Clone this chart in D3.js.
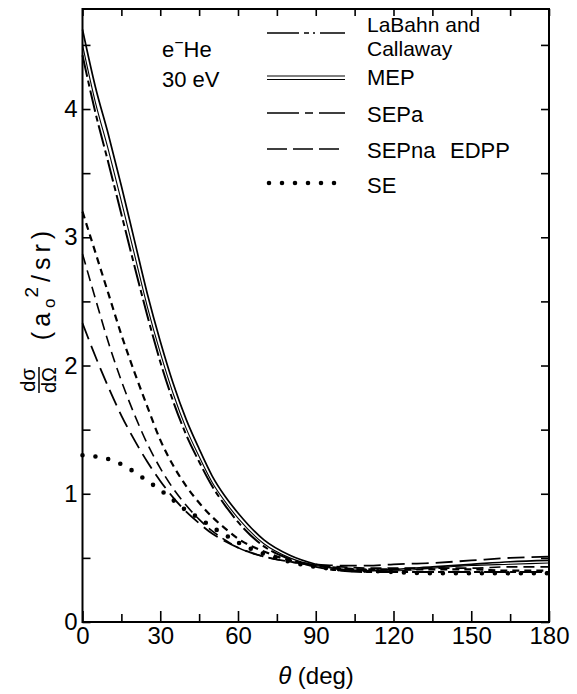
<!DOCTYPE html>
<html>
<head>
<meta charset="utf-8">
<style>
html, body {
  margin: 0px;
  padding: 0px;
  border: 0px;
  background: #fff;
}
svg text {
  font-family: "Liberation Sans", Arial, sans-serif;
  fill: #000;
}
.axis path {
  display: none;
}
.axis line {
  stroke: #000;
  stroke-width: 1.6px;
}
.axis text {
  font-size: 24px;
}
</style>
</head>
<body>
<div id="chart"></div>
<script src="https://cdn.jsdelivr.net/npm/d3@7/dist/d3.min.js"></script>
<script>
  var angles = [0, 5, 10, 15, 20, 25, 30, 35, 40, 45, 50, 55, 60, 70, 80, 90, 100, 110, 120, 135, 150, 165, 180];

  // dsigma/dOmega in a0^2/sr
  var mepOuter = [4.62, 4.17, 3.80, 3.40, 2.98, 2.56, 2.19, 1.86, 1.58, 1.35, 1.14, 0.98, 0.85, 0.64, 0.52, 0.45, 0.41, 0.40, 0.41, 0.43, 0.45, 0.47, 0.48];
  var mepInner = [4.50, 4.05, 3.68, 3.28, 2.87, 2.46, 2.10, 1.78, 1.51, 1.29, 1.09, 0.94, 0.81, 0.61, 0.50, 0.44, 0.41, 0.40, 0.40, 0.42, 0.44, 0.45, 0.46];
  var labahn = [4.42, 3.97, 3.58, 3.18, 2.78, 2.39, 2.03, 1.72, 1.46, 1.25, 1.06, 0.91, 0.78, 0.59, 0.49, 0.43, 0.40, 0.39, 0.39, 0.39, 0.39, 0.39, 0.39];
  var sepa = [3.20, 2.88, 2.56, 2.24, 1.95, 1.68, 1.42, 1.22, 1.06, 0.93, 0.82, 0.73, 0.65, 0.55, 0.48, 0.44, 0.42, 0.41, 0.41, 0.41, 0.41, 0.40, 0.40];
  var sepna = [2.87, 2.52, 2.18, 1.88, 1.62, 1.39, 1.20, 1.04, 0.91, 0.80, 0.71, 0.64, 0.58, 0.51, 0.47, 0.44, 0.43, 0.42, 0.42, 0.42, 0.42, 0.43, 0.43];
  var edpp = [2.33, 2.07, 1.83, 1.61, 1.42, 1.25, 1.10, 0.97, 0.86, 0.77, 0.69, 0.63, 0.58, 0.51, 0.47, 0.45, 0.44, 0.44, 0.45, 0.46, 0.48, 0.50, 0.51];
  var se = [1.30, 1.29, 1.27, 1.23, 1.17, 1.10, 1.03, 0.95, 0.87, 0.81, 0.74, 0.68, 0.62, 0.53, 0.47, 0.43, 0.41, 0.40, 0.39, 0.38, 0.38, 0.38, 0.38];

  var xTicks = [0, 30, 60, 90, 120, 150, 180];
  var xMinor = [15, 45, 75, 105, 135, 165];
  var yTicks = [0, 1, 2, 3, 4];
  var yMinor = [0.5, 1.5, 2.5, 3.5, 4.5];

  var legendLabels = ["LaBahn and", "MEP", "SEPa", "SEPna", "SE"];

  var W = 577, H = 694;
  var mLeft = 82.5, mRight = 549, mTop = 9, mBottom = 622;

  var x = d3.scaleLinear().domain([0, 180]).range([mLeft, mRight]);
  var y = d3.scaleLinear().domain([0, 4.78]).range([mBottom, mTop]);

  var svg = d3.select("#chart").append("svg")
    .attr("width", W)
    .attr("height", H);

  // curves
  var series = [
    { values: edpp, width: 1.8, dash: "17,7", cap: "butt" },
    { values: sepna, width: 1.6, dash: "11,6", cap: "butt" },
    { values: sepa, width: 2.2, dash: "7,5", cap: "butt" },
    { values: labahn, width: 2.0, dash: "22,4,6,4", cap: "butt" },
    { values: mepInner, width: 1.1, dash: null, cap: "butt" },
    { values: mepOuter, width: 1.7, dash: null, cap: "butt" },
    { values: se, width: 4.6, dash: "0,13", cap: "round" }
  ];

  var line = d3.line()
    .x(function (d) { return x(d[0]); })
    .y(function (d) { return y(d[1]); })
    .curve(d3.curveMonotoneX);

  var plot = svg.append("g");
  plot.selectAll("path")
    .data(series)
    .enter()
    .append("path")
    .attr("fill", "none")
    .attr("stroke", "#000")
    .attr("stroke-width", function (d) { return d.width; })
    .attr("stroke-dasharray", function (d) { return d.dash; })
    .attr("stroke-linecap", function (d) { return d.cap; })
    .attr("d", function (d) {
      return line(angles.map(function (a, i) { return [a, d.values[i]]; }));
    });

  // axes, ticks pointing inward
  svg.append("g").attr("class", "axis")
    .attr("transform", "translate(0," + mBottom + ")")
    .call(d3.axisBottom(x).tickValues(xTicks).tickSize(-11).tickPadding(5));
  svg.append("g").attr("class", "axis")
    .attr("transform", "translate(0," + mBottom + ")")
    .call(d3.axisBottom(x).tickValues(xMinor).tickSize(-8).tickFormat(""));
  svg.append("g").attr("class", "axis")
    .attr("transform", "translate(0," + mTop + ")")
    .call(d3.axisTop(x).tickValues(xTicks.concat(xMinor)).tickSize(-7).tickFormat(""));
  svg.append("g").attr("class", "axis")
    .attr("transform", "translate(" + mLeft + ",0)")
    .call(d3.axisLeft(y).tickValues(yTicks).tickSize(-8).tickPadding(5).tickFormat(d3.format("d")));
  svg.append("g").attr("class", "axis")
    .attr("transform", "translate(" + mLeft + ",0)")
    .call(d3.axisLeft(y).tickValues(yMinor).tickSize(-8).tickFormat(""));
  svg.append("g").attr("class", "axis")
    .attr("transform", "translate(" + mRight + ",0)")
    .call(d3.axisRight(y).tickValues(yTicks.concat(yMinor)).tickSize(-8).tickFormat(""));

  svg.append("rect")
    .attr("x", mLeft)
    .attr("y", mTop)
    .attr("width", mRight - mLeft)
    .attr("height", mBottom - mTop)
    .attr("fill", "none")
    .attr("stroke", "#000")
    .attr("stroke-width", 2);

  // x axis title
  var xt = svg.append("text")
    .attr("x", 316)
    .attr("y", 684)
    .attr("text-anchor", "middle")
    .style("font-size", "24px");
  xt.append("tspan").style("font-style", "italic").text("θ");
  xt.append("tspan").text(" (deg)");

  // y axis title, rotated
  var yt = svg.append("g").attr("transform", "rotate(-90)");
  yt.append("text")
    .attr("x", -380).attr("y", 35)
    .attr("text-anchor", "middle")
    .style("font-size", "20px")
    .text("dσ");
  yt.append("line")
    .attr("x1", -393).attr("x2", -367)
    .attr("y1", 39).attr("y2", 39)
    .attr("stroke", "#000").attr("stroke-width", 1.5);
  yt.append("text")
    .attr("x", -380).attr("y", 56)
    .attr("text-anchor", "middle")
    .style("font-size", "20px")
    .text("dΩ");
  var unit = yt.append("text")
    .attr("x", -283).attr("y", 50)
    .attr("text-anchor", "middle")
    .style("font-size", "25px")
    .style("letter-spacing", "5px");
  unit.append("tspan").text("(a");
  unit.append("tspan").attr("dy", 5).style("font-size", "17px").text("o");
  unit.append("tspan").attr("dy", -17).attr("dx", -4).style("font-size", "19px").text("2");
  unit.append("tspan").attr("dy", 12).text("/sr)");

  // annotation
  var ann = svg.append("text").attr("x", 162).attr("y", 57).style("font-size", "22px");
  ann.append("tspan").text("e");
  ann.append("tspan").attr("dy", -9).style("font-size", "16px").text("−");
  ann.append("tspan").attr("dy", 9).text("He");
  svg.append("text").attr("x", 162).attr("y", 87).style("font-size", "22px").text("30 eV");

  // legend
  var lx1 = 267, lx2 = 345, tx = 367;
  var legendRows = [
    { y: 33, dash: "32,5,5,4,2,5", width: 1.6 },
    { y: 76, dash: null, width: 1.2 },
    { y: 113, dash: "32,6,8,6", width: 1.6 },
    { y: 149, dash: "20,6", width: 1.6 },
    { y: 183, dash: "0,13", width: 4.6 }
  ];
  var leg = svg.append("g");
  leg.selectAll("line.key")
    .data(legendRows)
    .enter()
    .append("line")
    .attr("class", "key")
    .attr("x1", function (d) { return d.dash == "0,13" ? lx1 + 2 : lx1; })
    .attr("x2", lx2)
    .attr("y1", function (d) { return d.y; })
    .attr("y2", function (d) { return d.y; })
    .attr("stroke", "#000")
    .attr("stroke-width", function (d) { return d.width; })
    .attr("stroke-dasharray", function (d) { return d.dash; })
    .attr("stroke-linecap", function (d) { return d.dash == "0,13" ? "round" : "butt"; });
  // second rule of the MEP double line
  leg.append("line")
    .attr("x1", lx1).attr("x2", lx2)
    .attr("y1", 79.5).attr("y2", 79.5)
    .attr("stroke", "#000").attr("stroke-width", 1.2);

  var textRows = [32, 85, 122, 158, 193];
  leg.selectAll("text.lab")
    .data(legendLabels)
    .enter()
    .append("text")
    .attr("class", "lab")
    .attr("x", tx)
    .attr("y", function (d, i) { return textRows[i]; })
    .style("font-size", function (d, i) { return i == 0 ? "21px" : "22px"; })
    .text(function (d) { return d; });
  leg.append("text").attr("x", tx).attr("y", 56).style("font-size", "21px").text("Callaway");
  leg.append("text").attr("x", 450).attr("y", 158).style("font-size", "22px").text("EDPP");
</script>
</body>
</html>
